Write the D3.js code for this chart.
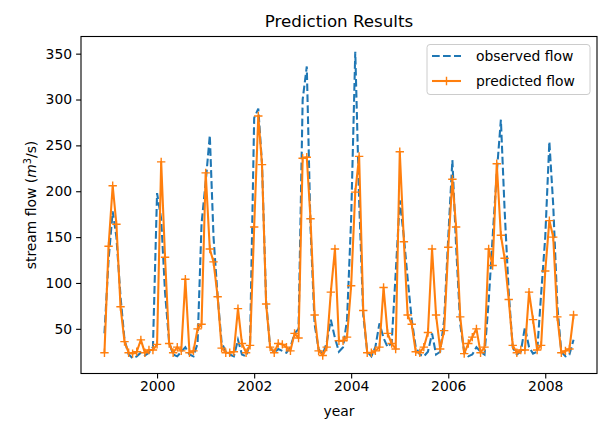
<!DOCTYPE html>
<html>
<head>
<meta charset="utf-8">
<script src="https://cdn.jsdelivr.net/npm/d3@7"></script>
<style>
  body { margin: 0; background: #fff; }
  svg { font-family: "DejaVu Sans", sans-serif; }
</style>
</head>
<body>
<div id="chart"></div>
<script>
// monthly values, the first one is December 1998
var startMonth = new Date(1998, 11, 1)

var observed = [
  45,
  125, 178, 150, 85, 38, 22, 18, 20, 24, 21, 24, 30,      // 1999
  198, 170, 90, 35, 22, 20, 25, 30, 22, 20, 34, 165,      // 2000
  210, 261, 150, 85, 35, 25, 22, 20, 38, 22, 20, 35,      // 2001
  280, 290, 230, 80, 30, 24, 28, 26, 24, 30, 45, 50,      // 2002
  300, 336, 160, 55, 28, 22, 35, 60, 40, 25, 30, 60,      // 2003
  170, 352, 190, 65, 25, 20, 30, 56, 40, 30, 35, 110,     // 2004
  190, 150, 105, 60, 30, 22, 20, 25, 45, 22, 25, 60,      // 2005
  150, 234, 140, 55, 25, 20, 22, 30, 25, 22, 80, 150,     // 2006
  220, 278, 180, 90, 30, 22, 25, 52, 30, 23, 25, 88,      // 2007
  150, 254, 185, 75, 25, 20, 22, 38                       // 2008
]

var predicted = [
  24,
  140, 206, 164, 74, 36, 24, 23, 25, 38, 24, 27, 27,      // 1999
  33, 232, 128, 34, 24, 30, 26, 104, 24, 26, 50, 55,      // 2000
  220, 137, 123, 85, 29, 24, 24, 25, 72, 34, 24, 32,      // 2001
  161, 282, 229, 77, 30, 24, 34, 33, 30, 26, 45, 40,      // 2002
  236, 237, 170, 65, 26, 21, 30, 90, 137, 37, 37, 41,     // 2003
  97, 199, 238, 70, 24, 24, 26, 30, 95, 45, 34, 28,       // 2004
  243, 145, 65, 55, 25, 24, 30, 46, 137, 65, 28, 48,      // 2005
  139, 213, 161, 63, 23, 34, 41, 50, 24, 30, 137, 119,    // 2006
  230, 152, 127, 82, 32, 24, 27, 27, 90, 60, 27, 32,      // 2007
  113, 168, 150, 63, 24, 26, 28, 65                       // 2008
]

var yTicks = [50, 100, 150, 200, 250, 300, 350]
var xTickYears = [2000, 2002, 2004, 2006, 2008]
var seriesNames = ["observed flow", "predicted flow"]
var colors = ["#1f77b4", "#ff7f0e"]

// chart dimensions
var width = 601
var height = 421
var plotLeft = 81, plotRight = 597, plotTop = 36.5, plotBottom = 373.5

var svg = d3.select("#chart")
            .append("svg")
            .attr("width", width)
            .attr("height", height)

// dates for each month
var dates = observed.map((v, i) => d3.timeMonth.offset(startMonth, i))

// x scale with matplotlib style 5% margins
var xExt = d3.extent(dates)
var xPad = (xExt[1] - xExt[0]) * 0.05
var xScale = d3.scaleTime()
               .domain([new Date(+xExt[0] - xPad), new Date(+xExt[1] + xPad)])
               .range([plotLeft, plotRight])

var allVals = observed.concat(predicted)
var yMin = d3.min(allVals), yMax = d3.max(allVals)
var yPad = (yMax - yMin) * 0.05
var yScale = d3.scaleLinear()
               .domain([yMin - yPad, yMax + yPad])
               .range([plotBottom, plotTop])

// axes
var xAxis = d3.axisBottom(xScale)
              .tickValues(xTickYears.map(y => new Date(y, 0, 1)))
              .tickFormat(d3.timeFormat("%Y"))
              .tickSize(4.9)
              .tickPadding(3)
var yAxis = d3.axisLeft(yScale)
              .tickValues(yTicks)
              .tickSize(4.9)
              .tickPadding(4)

var gx = svg.append("g")
            .attr("transform", "translate(0," + plotBottom + ")")
            .call(xAxis)
var gy = svg.append("g")
            .attr("transform", "translate(" + plotLeft + ",0)")
            .call(yAxis)

gx.select(".domain").remove()
gy.select(".domain").remove()
svg.selectAll(".tick line").attr("stroke", "#000").attr("stroke-width", 1.1)
svg.selectAll(".tick text")
   .attr("fill", "#000")
   .style("font-size", "13.9px")
   .style("font-family", "DejaVu Sans")

// lines
var line = d3.line()
             .x((d, i) => xScale(dates[i]))
             .y(d => yScale(d))

var plot = svg.append("g")

plot.append("path")
    .datum(observed)
    .attr("d", line)
    .attr("fill", "none")
    .attr("stroke", colors[0])
    .attr("stroke-width", 2.08)
    .attr("stroke-dasharray", "7.7,3.3")

plot.append("path")
    .datum(predicted)
    .attr("d", line)
    .attr("fill", "none")
    .attr("stroke", colors[1])
    .attr("stroke-width", 2.08)
    .attr("stroke-linejoin", "round")

var plus = "M-4.2,0H4.2M0,-4.2V4.2"
plot.selectAll(".mark")
    .data(predicted)
    .enter()
    .append("path")
    .attr("class", "mark")
    .attr("d", plus)
    .attr("transform", (d, i) => "translate(" + xScale(dates[i]) + "," + yScale(d) + ")")
    .attr("stroke", colors[1])
    .attr("stroke-width", 1.4)

// frame
svg.append("rect")
   .attr("x", plotLeft)
   .attr("y", plotTop)
   .attr("width", plotRight - plotLeft)
   .attr("height", plotBottom - plotTop)
   .attr("fill", "none")
   .attr("stroke", "#000")
   .attr("stroke-width", 1.1)

// title and labels
svg.append("text")
   .attr("x", (plotLeft + plotRight) / 2)
   .attr("y", 27)
   .attr("text-anchor", "middle")
   .style("font-size", "16.7px")
   .text("Prediction Results")

svg.append("text")
   .attr("x", (plotLeft + plotRight) / 2)
   .attr("y", 416)
   .attr("text-anchor", "middle")
   .style("font-size", "13.9px")
   .text("year")

var ylab = svg.append("text")
              .attr("transform", "translate(36," + (plotTop + plotBottom) / 2 + ") rotate(-90)")
              .attr("text-anchor", "middle")
              .style("font-size", "13.9px")
ylab.append("tspan").text("stream flow (")
ylab.append("tspan").style("font-style", "italic").text("m")
ylab.append("tspan").attr("dy", -5).style("font-size", "9.7px").text("3")
ylab.append("tspan").attr("dy", 5).text("/s)")

// legend
var legend = svg.append("g")
legend.append("rect")
      .attr("x", 427)
      .attr("y", 44.5)
      .attr("width", 163)
      .attr("height", 50)
      .attr("rx", 3)
      .attr("fill", "#fff")
      .attr("fill-opacity", 0.8)
      .attr("stroke", "#ccc")
      .attr("stroke-width", 1)

seriesNames.forEach((name, i) => {
  var ly = 56 + i * 25
  legend.append("line")
        .attr("x1", 432).attr("x2", 461)
        .attr("y1", ly).attr("y2", ly)
        .attr("stroke", colors[i])
        .attr("stroke-width", 2.08)
        .attr("stroke-dasharray", i == 0 ? "7.7,3.3" : null)
  if (i == 1) {
    legend.append("path")
          .attr("d", plus)
          .attr("transform", "translate(446.5," + ly + ")")
          .attr("stroke", colors[i])
          .attr("stroke-width", 1.4)
  }
  legend.append("text")
        .attr("x", 476)
        .attr("y", ly + 5)
        .style("font-size", "13.9px")
        .text(name)
})
</script>
</body>
</html>
